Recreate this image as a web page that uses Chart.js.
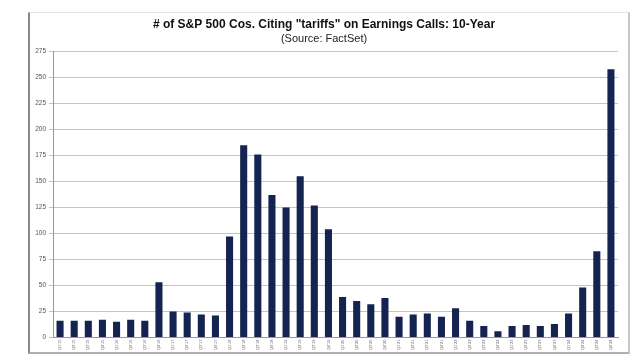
<!DOCTYPE html>
<html>
<head>
<meta charset="utf-8">
<script src="https://cdn.jsdelivr.net/npm/chart.js@4/dist/chart.umd.min.js"></script>
<style>
  html, body { margin: 0; padding: 0; background: #fff; }
  #frame {
    position: absolute; left: 28px; top: 12px; width: 598px; height: 339px;
    border-left: 2px solid #8a8a8a; border-bottom: 2px solid #b0b0b0;
    border-top: 1px solid #e4e4e4; border-right: 2px solid #c8c8c8;
  }
  #frame canvas { display: block; }
</style>
</head>
<body>
<div id="frame"><canvas id="c" width="598" height="339"></canvas></div>
<script>
// quarters Q1'15 .. Q4'24
const years = ['15', '16', '17', '18', '19', '20', '21', '22', '23', '24'];
const quarters = [];
years.forEach(y => { for (let q = 1; q <= 4; q++) quarters.push('Q' + q + "'" + y); });

// companies citing "tariffs"
const citing = [
  16, 16, 16, 17, 15, 17, 16, 53,
  25, 24, 22, 21, 97, 185, 176, 137,
  125, 155, 127, 104, 39, 35, 32, 38,
  20, 22, 23, 20, 28, 16, 11, 6,
  11, 12, 11, 13, 23, 48, 83, 258
];

const yTicks = [0, 25, 50, 75, 100, 125, 150, 175, 200, 225, 250, 275];

new Chart(document.getElementById('c'), {
  type: 'bar',
  data: {
    labels: quarters,
    datasets: [{
      data: citing,
      backgroundColor: '#14234f',
      borderWidth: 0,
      barPercentage: 0.5,
      categoryPercentage: 1,
    }],
  },
  options: {
    responsive: false,
    animation: false,
    layout: { padding: { left: 0, right: 10, top: 4, bottom: 0 } },
    plugins: {
      legend: { display: false },
      tooltip: { enabled: false },
      title: {
        display: true,
        text: '# of S&P 500 Cos. Citing "tariffs" on Earnings Calls: 10-Year',
        color: '#111',
        font: { family: 'Liberation Sans, Arial', size: 12, weight: 'bold' },
        padding: { top: 0, bottom: 1 },
      },
      subtitle: {
        display: true,
        text: '(Source: FactSet)',
        color: '#222',
        font: { family: 'Liberation Sans, Arial', size: 11 },
        padding: { top: 0, bottom: 6 },
      },
    },
    scales: {
      x: {
        grid: { display: false, drawTicks: false },
        border: { color: '#999' },
        ticks: {
          color: '#666',
          font: { family: 'Liberation Sans, Arial', size: 4 },
          minRotation: 90, maxRotation: 90,
          autoSkip: false,
          padding: 2,
        },
      },
      y: {
        min: 0, max: 275,
        afterBuildTicks: s => { s.ticks = yTicks.map(v => ({ value: v })); },
        afterFit: s => { s.width = 23; },
        grid: { color: '#c4c4c4', tickLength: 4 },
        border: { color: '#999' },
        ticks: {
          color: '#555',
          font: { family: 'Liberation Sans, Arial', size: 6.5 },
          padding: 3,
        },
      },
    },
  },
});
</script>
</body>
</html>
